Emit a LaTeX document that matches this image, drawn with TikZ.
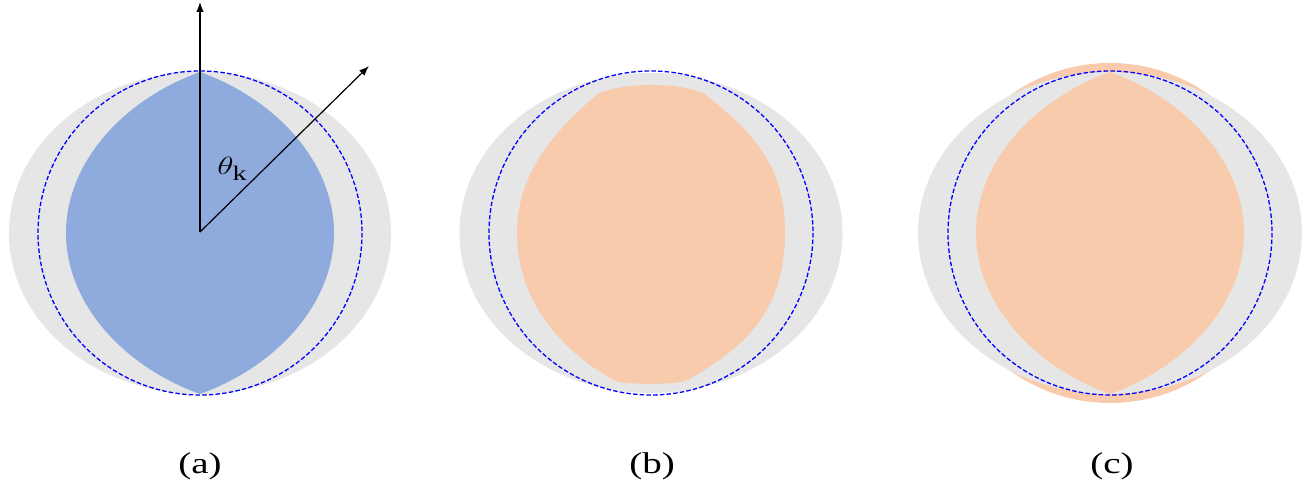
\documentclass[tikz,border=0pt]{standalone}
\usepackage{fontspec}
\setmainfont{Liberation Serif}
\usetikzlibrary{arrows.meta}
\definecolor{shadegray}{RGB}{230,230,230}
\definecolor{lensblue}{RGB}{143,170,220}
\definecolor{peach}{RGB}{248,203,173}
\definecolor{ringblue}{RGB}{0,0,255}
\tikzset{
  shadeell/.style={fill=shadegray},
  dashring/.style={draw=ringblue, line width=1.3pt, dash pattern=on 4.5pt off 2.2pt},
  vec/.style={-{Latex[length=10pt,width=7.5pt]}, line width=1.2pt, black},
  panellabel/.style={anchor=base, font=\fontsize{30}{34}\selectfont, xscale=1.3, inner sep=0pt},
  lens/.pic={
    \fill[pic actions] (0,-161) .. controls (-80,-132) and (-134,-68) .. (-134,0)
      .. controls (-134,68) and (-80,132) .. (0,161)
      .. controls (80,132) and (134,68) .. (134,0)
      .. controls (134,-68) and (80,-132) .. (0,-161) -- cycle;
  }
}
\begin{document}
\begin{tikzpicture}[x=1pt,y=-1pt]
\useasboundingbox (0,0) rectangle (1315,489);
% centres
\coordinate (ca) at (200,233);
\coordinate (cb) at (651,233);
\coordinate (cc) at (1110,233);

% ---------- (a)
\fill[shadeell] (ca) ellipse [x radius=191, y radius=161];
\pic[fill=lensblue] at (ca) {lens};
\draw[dashring] (ca) circle [radius=162];
\coordinate (O) at (200,232);
\coordinate (Yend) at (200,2);
\coordinate (Kend) at (369,66);
\draw[vec] (O) -- (Yend);
\draw[vec] (O) -- (Kend);
\node[anchor=base west, xscale=1.35, inner sep=0pt, font=\fontsize{24.88}{28}\selectfont] (thk) at (217,175) {$\theta_{\mathrm{k}}$};
\node[panellabel] (la) at (200,473) {(a)};

% ---------- (b)
\fill[shadeell] (cb) ellipse [x radius=191.5, y radius=160];
\fill[peach] (598,94) .. controls (622,82) and (680,82) .. (705,94)
  .. controls (743.5,126) and (785,158) .. (785,232)
  .. controls (785,323) and (730.5,354) .. (688,380)
  .. controls (676,385) and (627,385) .. (615,381)
  .. controls (567,354) and (517,306) .. (517,232)
  .. controls (517,171) and (559.5,126) .. (598,94) -- cycle;
\draw[dashring] (cb) circle [radius=162];
\node[panellabel] (lb) at (652,473) {(b)};

% ---------- (c)
\fill[peach] (cc) circle [radius=170];
\fill[shadeell] (cc) ellipse [x radius=192, y radius=161];
\pic[fill=peach] at (cc) {lens};
\draw[dashring] (cc) circle [radius=162];
\node[panellabel] (lc) at (1112,473) {(c)};
\end{tikzpicture}
\end{document}
